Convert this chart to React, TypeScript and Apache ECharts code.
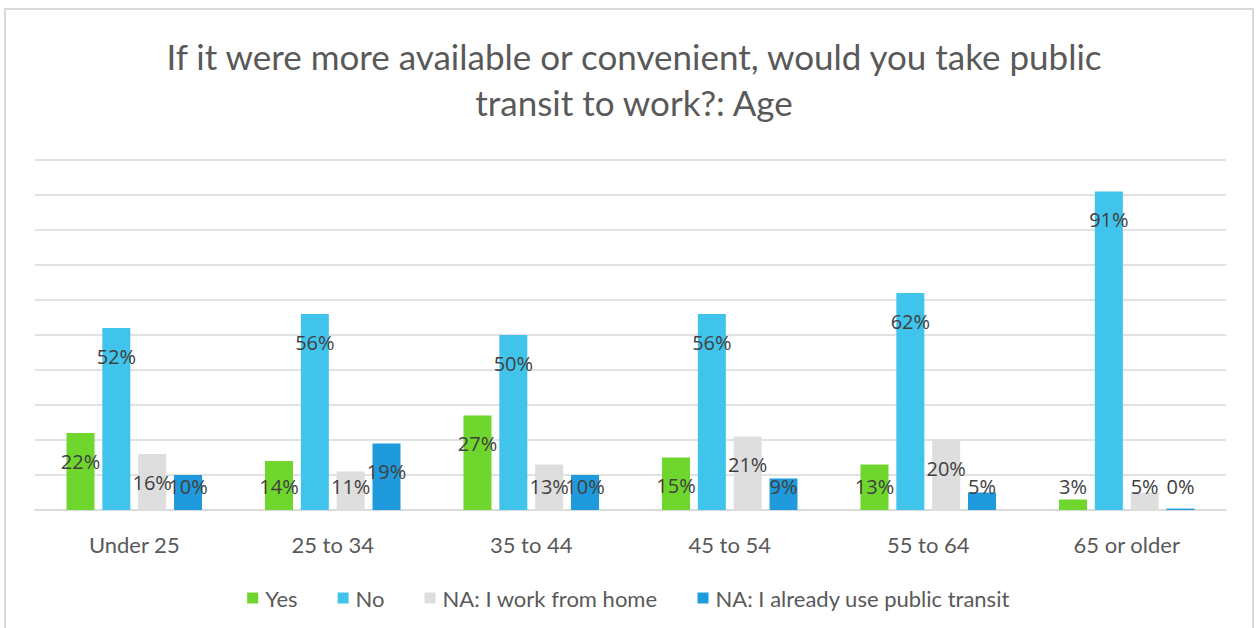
import React, { useEffect, useRef } from "react";
import * as echarts from "echarts";

const categories = ["Under 25", "25 to 34", "35 to 44", "45 to 54", "55 to 64", "65 or older"];
const seriesNames = ["Yes", "No", "NA: I work from home", "NA: I already use public transit"];
const yesValues = [0.22, 0.14, 0.27, 0.15, 0.13, 0.03];
const noValues = [0.52, 0.56, 0.5, 0.56, 0.62, 0.91];
const homeValues = [0.16, 0.11, 0.13, 0.21, 0.2, 0.05];
const transitValues = [0.1, 0.19, 0.1, 0.09, 0.05, 0.004];
const colors = ["#6fd62d", "#41c4ec", "#dedede", "#1f9bdd"];
const titleText = "If it were more available or convenient, would you take public\ntransit to work?: Age";

const labelFont = "'Open Sans', 'Noto Sans', sans-serif";
const mainFont = "Lato, 'Noto Sans', sans-serif";

function makeData(values: number[]) {
  return values.map((v) => ({
    value: v,
    label:
      v < 0.15
        ? { position: "insideBottom", distance: 14 }
        : { position: "insideTop", distance: 18 },
  }));
}

export default function App() {
  const ref = useRef<HTMLDivElement>(null);
  useEffect(() => {
    if (!ref.current) return;
    const chart = echarts.init(ref.current, undefined, { renderer: "svg" });
    const all = [yesValues, noValues, homeValues, transitValues];
    chart.setOption({
      animation: false,
      backgroundColor: "#ffffff",
      title: {
        text: titleText,
        left: 629,
        top: 28,
        textAlign: "center",
        textStyle: {
          fontFamily: mainFont,
          fontSize: 35,
          fontWeight: "normal",
          color: "#595959",
          lineHeight: 46,
          align: "center",
        },
      },
      graphic: [
        {
          type: "rect",
          shape: { x: 5, y: 9, width: 1248, height: 640 },
          style: { fill: "none", stroke: "#d9d9d9", lineWidth: 2 },
          silent: true,
        },
      ],
      legend: {
        data: seriesNames,
        left: "center",
        top: 582,
        itemWidth: 11,
        itemHeight: 11,
        itemGap: 40,
        icon: "rect",
        textStyle: { fontFamily: mainFont, fontSize: 22, color: "#595959", padding: [0, 0, 0, 2] },
      },
      grid: { left: 35, right: 31, top: 160, bottom: 118, containLabel: false },
      xAxis: {
        type: "category",
        data: categories,
        axisLine: { lineStyle: { color: "#d9d9d9", width: 1.5 } },
        axisTick: { show: false },
        axisLabel: { fontFamily: mainFont, fontSize: 22, color: "#595959", margin: 23 },
      },
      yAxis: {
        type: "value",
        min: 0,
        max: 1,
        interval: 0.1,
        axisLabel: { show: false },
        axisLine: { show: false },
        axisTick: { show: false },
        splitLine: { lineStyle: { color: "#d9d9d9", width: 1.5 } },
      },
      series: all.map((vals, i) => ({
        name: seriesNames[i],
        type: "bar",
        data: makeData(vals),
        barWidth: 28,
        barGap: "28%",
        itemStyle: { color: colors[i] },
        label: {
          show: true,
          formatter: (p: any) => Math.round(p.value * 100) + "%",
          fontFamily: labelFont,
          fontSize: 20,
          color: "#404040",
        },
      })),
    });
    return () => chart.dispose();
  }, []);
  return (
    <div
      ref={ref}
      style={{ position: "absolute", left: 0, top: 0, width: 1257, height: 628 }}
    />
  );
}
